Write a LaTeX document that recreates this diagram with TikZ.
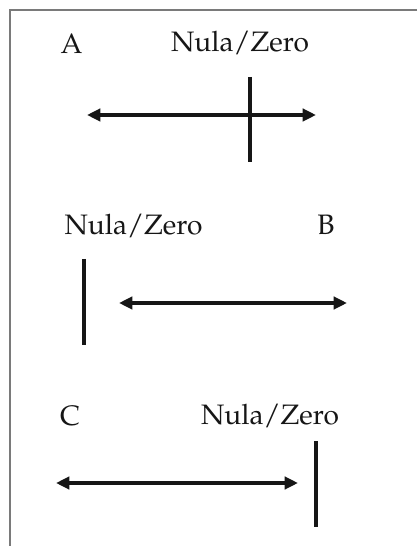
\documentclass[tikz,border=0pt]{standalone}
\usepackage[T1]{fontenc}
\usepackage{mathpazo}
\usetikzlibrary{arrows.meta}
\definecolor{figink}{HTML}{161616}
\definecolor{figframe}{HTML}{7A7A7A}

\begin{document}
\begin{tikzpicture}[
  x=0.02cm,
  y=-0.02cm,
  every node/.style={font=\fontsize{16}{19}\selectfont, figink, inner sep=0pt, anchor=base},
  axis/.style={figink, line width=1.9pt,
    {Triangle[length=7.6pt,width=7pt]}-{Triangle[length=7.6pt,width=7pt]}},
  divider/.style={figink, line width=1.9pt},
  frame/.style={figframe, line width=1pt}
]
  \useasboundingbox (0,0) rectangle (417,546);

  % ---- the frame (top and left edges only) -----------------------------
  \draw[frame] (417,10) -- (10,10) -- (10,546);

  % ---- case A: zero inside the range -----------------------------------
  \node (labA) at (71.5,54) {A};
  \node (zeroA) at (240,52) {Nula/Zero};
  \coordinate (aL) at (87,115);
  \coordinate (aR) at (316,115);
  \coordinate (aT) at (250,77);
  \coordinate (aB) at (250,162);
  \draw[axis] (aL) -- (aR);
  \draw[divider] (aT) -- (aB);

  % ---- case B: zero to the left of the range ---------------------------
  \node (zeroB) at (133.5,235) {Nula/Zero};
  \node (labB) at (326,235) {B};
  \coordinate (bL) at (119,303);
  \coordinate (bR) at (347,303);
  \coordinate (bT) at (84,259);
  \coordinate (bB) at (84,345);
  \draw[axis] (bL) -- (bR);
  \draw[divider] (bT) -- (bB);

  % ---- case C: zero to the right of the range --------------------------
  \node (labC) at (70,425) {C};
  \node (zeroC) at (270,424) {Nula/Zero};
  \coordinate (cL) at (56,483);
  \coordinate (cR) at (298,483);
  \coordinate (cT) at (316,441);
  \coordinate (cB) at (316,527);
  \draw[axis] (cL) -- (cR);
  \draw[divider] (cT) -- (cB);
\end{tikzpicture}
\end{document}
